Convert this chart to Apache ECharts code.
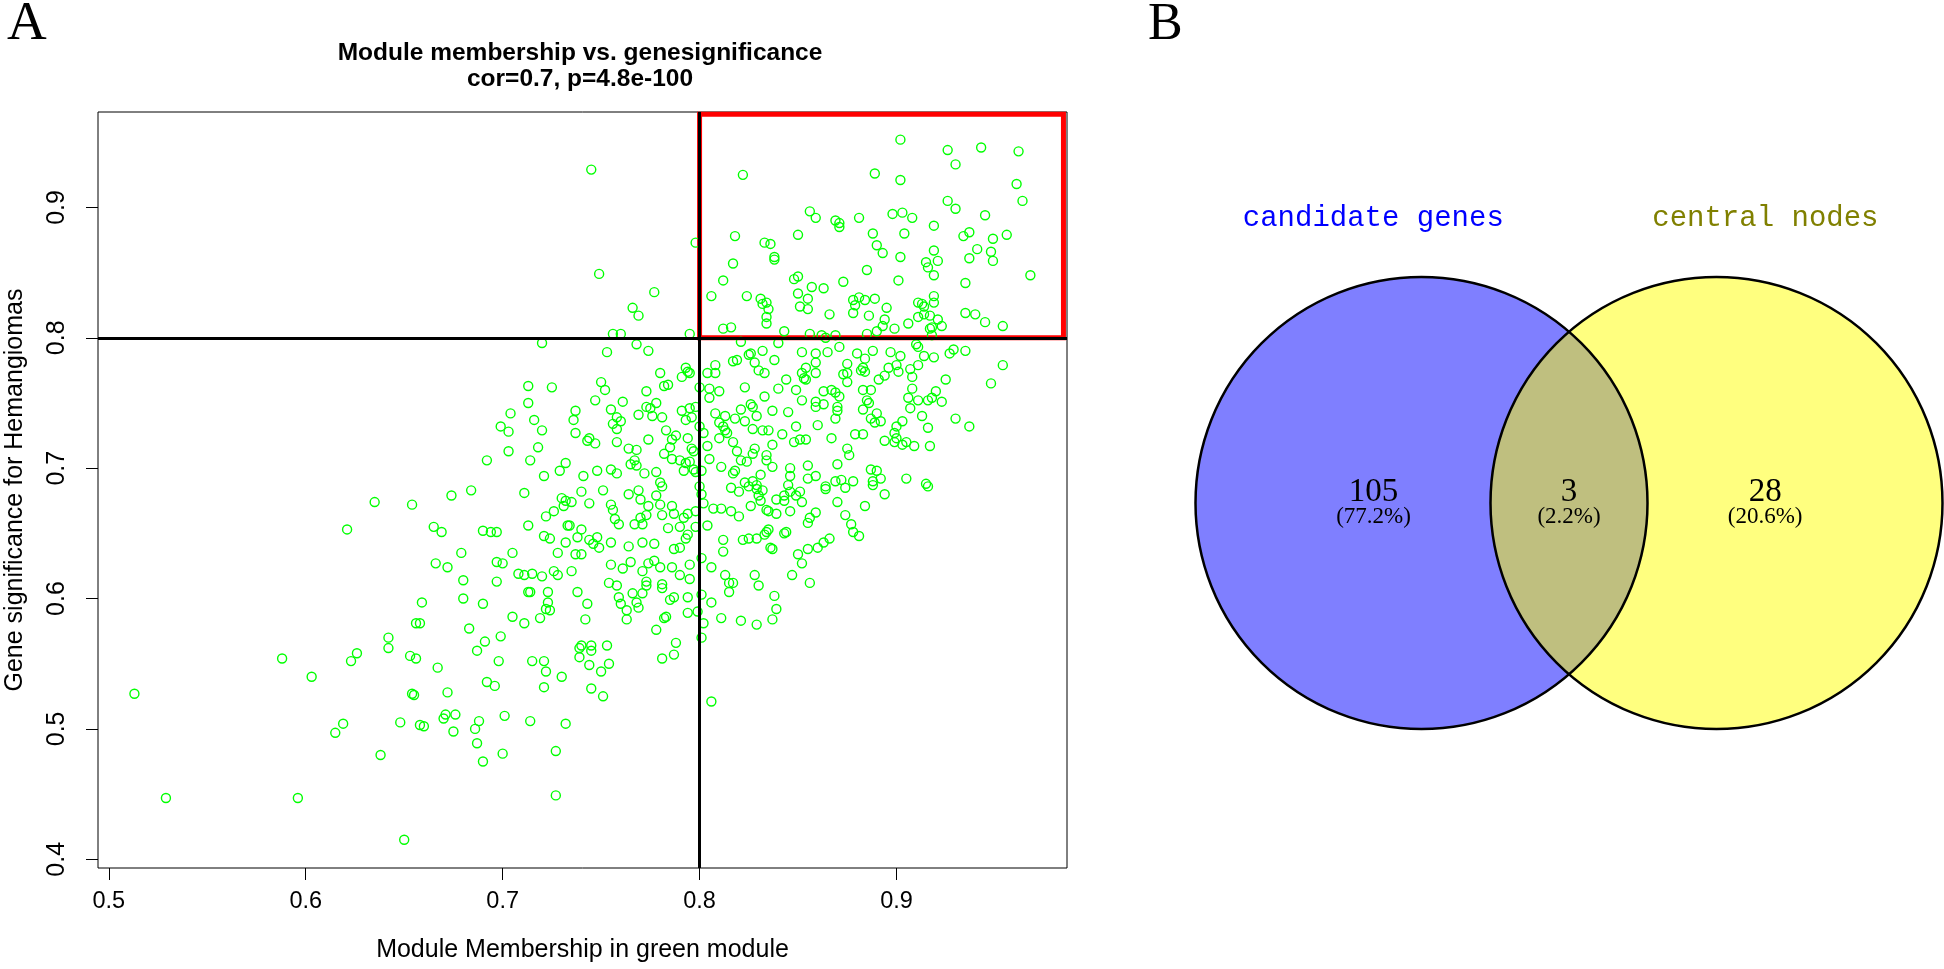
<!DOCTYPE html>
<html>
<head>
<meta charset="utf-8">
<script src="https://cdn.jsdelivr.net/npm/echarts@6/dist/echarts.min.js"></script>
<style>
html,body{margin:0;padding:0;background:#fff;}
#chart{width:1944px;height:969px;}
</style>
</head>
<body>
<div id="chart"></div>
<script>
// ---------------- DATA ----------------
const membershipTicks = [0.5, 0.6, 0.7, 0.8, 0.9];
const significanceTicks = [0.4, 0.5, 0.6, 0.7, 0.8, 0.9];
const cutoffMembership = 0.8;
const cutoffSignificance = 0.8;
const hubBox = [[0.8, 0.8], [0.9848, 0.9715]];

// [module membership, gene significance]
const genesUpperMid = [
[0.745,0.929],[0.822,0.925],[0.798,0.873],[0.818,0.878],[0.749,0.849],[0.817,0.857],[0.812,0.844],[0.806,0.832],[0.824,0.832],[0.777,0.835],
[0.766,0.823],[0.769,0.817],[0.812,0.807],[0.816,0.808],[0.756,0.803],[0.760,0.803],[0.795,0.803],[0.720,0.796],[0.753,0.789],[0.768,0.795],
[0.774,0.790],[0.821,0.797],[0.825,0.787],[0.817,0.782],[0.819,0.783],[0.808,0.779],[0.808,0.773],[0.804,0.773],[0.780,0.773],[0.793,0.777],
[0.794,0.774],[0.791,0.770],[0.795,0.773],[0.784,0.764],[0.782,0.763],[0.800,0.762],[0.805,0.761],[0.810,0.759],[0.805,0.754],[0.823,0.762],
[0.713,0.763],[0.725,0.762],[0.750,0.766],[0.752,0.760],[0.773,0.759],[0.747,0.752],[0.761,0.751],[0.713,0.750],[0.704,0.742],[0.737,0.744],
[0.736,0.737],[0.755,0.745],[0.758,0.739],[0.756,0.734],[0.758,0.730],[0.760,0.736],[0.773,0.747],[0.775,0.746],[0.778,0.750],[0.776,0.740],
[0.781,0.739],[0.769,0.741],[0.791,0.744],[0.795,0.746],[0.796,0.739],[0.798,0.747],[0.793,0.737],[0.800,0.732],[0.699,0.732],[0.703,0.728],
[0.716,0.737],[0.720,0.729],[0.737,0.727],[0.783,0.729],[0.788,0.725],[0.786,0.722],[0.794,0.723],[0.744,0.723],[0.743,0.721],[0.747,0.719],
[0.758,0.720],[0.774,0.722],[0.718,0.716],[0.703,0.713],[0.764,0.715],[0.768,0.714],[0.785,0.716],[0.782,0.711],[0.786,0.707],[0.796,0.715],
[0.797,0.713],[0.692,0.706],[0.714,0.706],[0.732,0.704],[0.729,0.698],[0.721,0.694],[0.741,0.694],[0.748,0.698],[0.755,0.699],[0.758,0.696],
[0.765,0.703],[0.767,0.706],[0.768,0.702],[0.772,0.696],[0.778,0.697],[0.780,0.689],[0.781,0.686],[0.790,0.706],[0.793,0.704],[0.795,0.705],
[0.792,0.698],[0.797,0.699],[0.798,0.697],[0.801,0.698],[0.800,0.686],[0.684,0.683],
[0.802,0.727],[0.804,0.717],[0.805,0.707],[0.811,0.701],[0.818,0.698],[0.817,0.696],[0.821,0.706],[0.823,0.689],[0.819,0.713],[0.817,0.720],
[0.814,0.727],[0.812,0.732],[0.813,0.729],[0.810,0.723],[0.808,0.742],[0.813,0.740],[0.818,0.738],[0.821,0.745],[0.823,0.736],[0.826,0.749],[0.810,0.735]
];

const genesHubRegion = [
[0.902,0.952],[0.926,0.944],[0.943,0.946],[0.962,0.943],[0.930,0.933],[0.889,0.926],[0.902,0.921],[0.961,0.918],[0.964,0.905],[0.926,0.905],
[0.930,0.899],[0.945,0.894],[0.856,0.897],[0.859,0.892],[0.869,0.890],[0.871,0.888],[0.871,0.885],[0.881,0.892],[0.898,0.895],[0.903,0.896],
[0.908,0.892],[0.919,0.886],[0.888,0.880],[0.904,0.880],[0.850,0.879],[0.833,0.873],[0.836,0.872],[0.890,0.871],[0.893,0.865],[0.902,0.862],
[0.838,0.862],[0.838,0.860],[0.934,0.878],[0.937,0.881],[0.949,0.876],[0.956,0.879],[0.941,0.868],[0.948,0.866],[0.949,0.859],[0.937,0.861],
[0.919,0.867],[0.921,0.859],[0.915,0.858],[0.916,0.854],[0.919,0.848],[0.885,0.852],[0.901,0.844],[0.935,0.842],[0.968,0.848],[0.848,0.845],
[0.850,0.847],[0.857,0.839],[0.863,0.838],[0.873,0.843],[0.831,0.830],[0.832,0.826],[0.834,0.827],[0.835,0.822],[0.834,0.816],[0.834,0.811],
[0.850,0.834],[0.855,0.830],[0.851,0.824],[0.855,0.822],[0.866,0.818],[0.878,0.829],[0.881,0.831],[0.884,0.829],[0.879,0.825],[0.878,0.819],
[0.889,0.830],[0.895,0.823],[0.894,0.814],[0.893,0.809],[0.899,0.807],[0.886,0.817],[0.906,0.811],[0.911,0.827],[0.913,0.826],[0.914,0.824],
[0.911,0.816],[0.914,0.818],[0.917,0.817],[0.919,0.832],[0.919,0.827],[0.921,0.814],[0.923,0.809],[0.918,0.808],[0.935,0.819],[0.940,0.818],
[0.945,0.812],[0.954,0.809],[0.843,0.805],[0.856,0.803],[0.862,0.802],[0.864,0.800],[0.869,0.802],[0.885,0.803],[0.890,0.805],[0.917,0.807],[0.918,0.802]
];

const genesUpperRight = [
[0.840,0.796],[0.826,0.788],[0.832,0.790],[0.838,0.783],[0.828,0.781],[0.830,0.775],[0.833,0.773],[0.852,0.789],[0.859,0.788],[0.865,0.789],
[0.871,0.793],[0.859,0.781],[0.859,0.773],[0.854,0.777],[0.852,0.773],[0.854,0.768],[0.853,0.769],[0.844,0.768],[0.840,0.761],[0.849,0.760],
[0.833,0.755],[0.827,0.747],[0.829,0.740],[0.837,0.744],[0.845,0.743],[0.852,0.752],[0.859,0.751],[0.859,0.747],[0.863,0.749],[0.863,0.759],
[0.867,0.760],[0.869,0.758],[0.871,0.755],[0.870,0.747],[0.870,0.744],[0.869,0.738],[0.849,0.732],[0.860,0.733],[0.827,0.730],[0.832,0.729],
[0.835,0.729],[0.842,0.726],[0.848,0.720],[0.851,0.722],[0.854,0.722],[0.867,0.723],[0.837,0.718],[0.828,0.715],[0.834,0.710],[0.834,0.706],
[0.837,0.701],[0.827,0.711],[0.824,0.705],[0.846,0.700],[0.846,0.694],[0.855,0.702],[0.855,0.692],[0.859,0.694],[0.831,0.695],[0.827,0.690],
[0.829,0.687],[0.875,0.773],[0.873,0.772],[0.882,0.775],[0.884,0.774],[0.883,0.777],[0.880,0.788],[0.884,0.784],[0.888,0.790],[0.875,0.780],
[0.875,0.766],[0.883,0.760],[0.887,0.760],[0.885,0.752],[0.886,0.750],[0.883,0.745],[0.887,0.738],[0.890,0.742],[0.892,0.736],[0.889,0.735],
[0.891,0.768],[0.894,0.771],[0.896,0.777],[0.897,0.789],[0.900,0.779],[0.902,0.786],[0.901,0.774],[0.907,0.776],[0.908,0.770],[0.911,0.779],
[0.908,0.761],[0.906,0.754],[0.907,0.746],[0.911,0.752],[0.913,0.740],[0.910,0.795],[0.911,0.793],[0.914,0.786],[0.919,0.785],[0.916,0.752],
[0.918,0.754],[0.920,0.759],[0.923,0.751],[0.925,0.768],[0.927,0.788],[0.929,0.791],[0.935,0.790],[0.954,0.779],[0.948,0.765],[0.930,0.738],
[0.937,0.732],[0.916,0.731],[0.917,0.717],[0.909,0.717],[0.905,0.720],[0.903,0.718],[0.903,0.736],[0.900,0.732],[0.899,0.727],[0.900,0.723],
[0.894,0.721],[0.899,0.720],[0.883,0.726],[0.879,0.726],[0.875,0.715],[0.876,0.710],[0.870,0.703],[0.905,0.692],[0.915,0.688],[0.887,0.699],
[0.890,0.698],[0.892,0.692],[0.888,0.690],[0.878,0.690],[0.872,0.691],[0.869,0.690],[0.864,0.686],[0.845,0.687]
];

const genesLowerMid = [
[0.674,0.679],[0.711,0.681],[0.665,0.655],[0.669,0.651],[0.690,0.652],[0.694,0.651],[0.697,0.651],[0.713,0.656],[0.722,0.663],[0.726,0.667],
[0.730,0.677],[0.732,0.675],[0.735,0.674],[0.731,0.671],[0.740,0.682],[0.744,0.673],[0.751,0.683],[0.755,0.672],[0.756,0.668],[0.757,0.661],
[0.759,0.657],[0.764,0.680],[0.769,0.683],[0.770,0.676],[0.733,0.656],[0.734,0.656],[0.721,0.648],[0.724,0.646],[0.740,0.653],[0.738,0.647],
[0.744,0.645],[0.746,0.642],[0.748,0.647],[0.749,0.639],[0.732,0.643],[0.728,0.635],[0.737,0.634],[0.740,0.634],[0.755,0.643],[0.764,0.640],
[0.771,0.643],[0.777,0.642],[0.767,0.657],[0.771,0.657],[0.773,0.664],[0.770,0.662],[0.774,0.671],[0.778,0.679],[0.780,0.672],[0.781,0.664],
[0.784,0.654],[0.786,0.671],[0.787,0.665],[0.790,0.655],[0.792,0.662],[0.794,0.665],[0.798,0.667],[0.798,0.655],[0.804,0.656],[0.787,0.638],
[0.790,0.639],[0.793,0.646],[0.794,0.649],[0.755,0.626],[0.761,0.623],[0.765,0.628],[0.771,0.621],[0.774,0.627],[0.777,0.629],[0.786,0.624],
[0.790,0.618],[0.795,0.626],[0.795,0.615],[0.801,0.631],[0.806,0.624],[0.813,0.618],[0.815,0.612],[0.817,0.612],[0.815,0.605],[0.806,0.597],
[0.811,0.585],[0.821,0.583],[0.801,0.603],[0.802,0.581],[0.801,0.570],[0.799,0.590],[0.806,0.521],[0.807,0.669],[0.811,0.669],[0.816,0.667],
[0.820,0.663],[0.812,0.645],[0.812,0.636],[0.822,0.645],[0.802,0.673],[0.801,0.680],[0.816,0.685],[0.820,0.682],[0.780,0.624],[0.773,0.613],
[0.781,0.608],[0.785,0.599],[0.787,0.601],[0.781,0.611],[0.778,0.576],[0.782,0.585],[0.783,0.586],[0.788,0.566],[0.787,0.557],[0.781,0.554],
[0.794,0.589],[0.794,0.601],[0.754,0.612],[0.758,0.610],[0.759,0.601],[0.760,0.596],[0.763,0.591],[0.763,0.584],[0.766,0.604],[0.768,0.597],
[0.769,0.593],[0.771,0.604],[0.773,0.610],[0.738,0.605],[0.743,0.596],[0.742,0.584],[0.726,0.621],[0.728,0.618],[0.735,0.621],[0.723,0.605],
[0.723,0.597],[0.722,0.592],[0.724,0.591],[0.719,0.585],[0.715,0.619],[0.720,0.617],[0.713,0.605],[0.714,0.605],[0.708,0.619],[0.711,0.618],
[0.705,0.586],[0.711,0.581],[0.697,0.628],[0.700,0.627],[0.705,0.635],[0.697,0.613],[0.680,0.614],[0.680,0.600],[0.690,0.596],[0.679,0.635],
[0.666,0.627],[0.672,0.624],[0.659,0.597],[0.658,0.581],[0.683,0.577],[0.691,0.567],[0.687,0.560],[0.699,0.571],[0.698,0.552],[0.715,0.552],
[0.721,0.552],[0.722,0.544],[0.730,0.540],[0.721,0.532],[0.692,0.536],[0.696,0.533],[0.672,0.528],[0.667,0.547],[0.740,0.564],[0.739,0.562],
[0.745,0.564],[0.745,0.560],[0.739,0.555],[0.753,0.564],[0.744,0.549],[0.754,0.550],[0.750,0.544],[0.745,0.531],[0.751,0.525],[0.670,0.508],
[0.671,0.511],[0.676,0.511],[0.688,0.506],[0.686,0.500],[0.675,0.498],[0.687,0.489],[0.690,0.475],[0.701,0.510],[0.700,0.481],[0.714,0.506],
[0.732,0.504],[0.727,0.483],[0.727,0.449],[0.660,0.502]
];

const genesLowerLeft = [
[0.635,0.674],[0.654,0.672],[0.621,0.653],[0.656,0.581],[0.642,0.570],[0.642,0.562],[0.626,0.558],[0.623,0.552],[0.653,0.556],[0.656,0.554],
[0.588,0.554],[0.603,0.540],[0.513,0.527],[0.654,0.527],[0.655,0.526],[0.648,0.505],[0.658,0.503],[0.619,0.504],[0.615,0.497],[0.638,0.480],
[0.529,0.447],[0.596,0.447],[0.650,0.415]
];

const genesLowerRight = [
[0.825,0.686],[0.829,0.684],[0.832,0.683],[0.830,0.679],[0.826,0.671],[0.831,0.675],[0.834,0.668],[0.835,0.667],[0.839,0.665],[0.839,0.676],
[0.843,0.675],[0.843,0.679],[0.846,0.682],[0.849,0.679],[0.851,0.682],[0.852,0.674],[0.846,0.667],[0.864,0.684],[0.870,0.674],[0.874,0.664],
[0.874,0.685],[0.884,0.671],[0.894,0.680],[0.888,0.687],[0.916,0.686],[0.855,0.658],[0.856,0.662],[0.859,0.666],[0.834,0.651],[0.835,0.653],
[0.843,0.650],[0.844,0.651],[0.825,0.646],[0.829,0.646],[0.833,0.649],[0.836,0.639],[0.837,0.638],[0.850,0.634],[0.852,0.627],[0.855,0.638],
[0.860,0.639],[0.863,0.643],[0.866,0.646],[0.877,0.657],[0.878,0.651],[0.881,0.648],[0.828,0.618],[0.830,0.610],[0.847,0.618],[0.856,0.612],
[0.838,0.602],[0.839,0.592],[0.837,0.584],[0.829,0.580]
];

const vennSets = ['candidate genes', 'central nodes'];
const vennCounts = [105, 3, 28]; // only candidate, both, only central

// ---------------- CHART ----------------
const allGenes = [].concat(genesUpperMid, genesHubRegion, genesUpperRight, genesLowerMid, genesLowerLeft, genesLowerRight);
const vennTotal = vennCounts.reduce((a, b) => a + b, 0);
const pct = n => '(' + (n / vennTotal * 100).toFixed(1) + '%)';

const sans = '"Liberation Sans", Arial, sans-serif';
const serif = '"Liberation Serif", "Times New Roman", serif';
const mono = '"Liberation Mono", "DejaVu Sans Mono", monospace';

// layout of the Venn panel (in its own unit axes: 1 unit = circle radius)
const vennOffset = 0.6527;
const vennSize = [452, 452];

const chart = echarts.init(document.getElementById('chart'), null, {renderer: 'canvas'});

const txt = (text, x, y, font, align, fill) => ({
  type: 'text', x: x, y: y, silent: true,
  style: {text: text, font: font, fill: fill || '#000', align: align, verticalAlign: 'middle', textAlign: align, textVerticalAlign: 'middle'}
});

const option = {
  animation: false,
  backgroundColor: '#ffffff',
  graphic: [
    txt('A', 7, 25, '55px ' + serif, 'left'),
    txt('B', 1148, 25, '52px ' + serif, 'left'),
    txt('Module membership vs. genesignificance', 580, 53, 'bold 24.5px ' + sans, 'center'),
    txt('cor=0.7, p=4.8e-100', 580, 79, 'bold 24.5px ' + sans, 'center')
  ],
  grid: [
    {left: 98, right: 877, top: 112, bottom: 101, show: true, borderColor: '#000', borderWidth: 1, backgroundColor: 'rgba(0,0,0,0)', containLabel: false},
    {left: 1195, width: 748, top: 277, height: 452, show: false, containLabel: false}
  ],
  xAxis: [
    {
      type: 'value', gridIndex: 0, min: 0.4945, max: 0.9866,
      axisLine: {show: false},
      splitLine: {show: false},
      axisTick: {show: true, length: 12, customValues: membershipTicks, lineStyle: {color: '#000', width: 1}},
      axisLabel: {show: true, customValues: membershipTicks, margin: 22, color: '#000', fontSize: 23.5, fontFamily: sans, formatter: v => v.toFixed(1)},
      name: 'Module Membership in green module', nameLocation: 'middle', nameGap: 70,
      nameTextStyle: {color: '#000', fontSize: 25, fontFamily: sans}
    },
    {type: 'value', gridIndex: 1, min: -1.655, max: 1.655, show: false}
  ],
  yAxis: [
    {
      type: 'value', gridIndex: 0, min: 0.3933, max: 0.9732,
      axisLine: {show: false},
      splitLine: {show: false},
      axisTick: {show: true, length: 12, customValues: significanceTicks, lineStyle: {color: '#000', width: 1}},
      axisLabel: {show: true, customValues: significanceTicks, rotate: 90, margin: 28, color: '#000', fontSize: 25, fontFamily: sans, formatter: v => v.toFixed(1)},
      name: 'Gene significance for Hemangiomas', nameLocation: 'middle', nameGap: 70, nameRotate: 90,
      nameTextStyle: {color: '#000', fontSize: 25, fontFamily: sans}
    },
    {type: 'value', gridIndex: 1, min: -1, max: 1, show: false}
  ],
  series: [
    {
      name: 'genes', type: 'scatter', xAxisIndex: 0, yAxisIndex: 0,
      data: allGenes, symbol: 'circle', symbolSize: 9, silent: true,
      itemStyle: {color: 'rgba(0,0,0,0)', borderColor: '#00FF00', borderWidth: 1.4, opacity: 1},
      markArea: {
        silent: true,
        itemStyle: {color: 'rgba(0,0,0,0)', borderColor: '#FF0000', borderWidth: 5, opacity: 1},
        data: [[{coord: hubBox[0]}, {coord: hubBox[1]}]]
      },
      markLine: {
        silent: true, symbol: ['none', 'none'], label: {show: false},
        lineStyle: {color: '#000', width: 3, type: 'solid', opacity: 1},
        data: [{xAxis: cutoffMembership}, {yAxis: cutoffSignificance}]
      },
      z: 3
    },
    {
      name: 'vennFill', type: 'scatter', xAxisIndex: 1, yAxisIndex: 1, silent: true, clip: false,
      symbol: 'circle', symbolSize: vennSize,
      data: [
        {value: [-vennOffset, 0], itemStyle: {color: 'rgba(0,0,255,0.5)', opacity: 1}},
        {value: [vennOffset, 0], itemStyle: {color: 'rgba(255,255,0,0.5)', opacity: 1}}
      ],
      itemStyle: {borderWidth: 0, opacity: 1},
      z: 2
    },
    {
      name: 'vennBorder', type: 'scatter', xAxisIndex: 1, yAxisIndex: 1, silent: true, clip: false,
      symbol: 'circle', symbolSize: vennSize,
      data: [[-vennOffset, 0], [vennOffset, 0]],
      itemStyle: {color: 'rgba(0,0,0,0)', borderColor: '#000', borderWidth: 2.5, opacity: 1},
      z: 3
    },
    {
      name: 'vennLabels', type: 'scatter', xAxisIndex: 1, yAxisIndex: 1, silent: true, clip: false,
      symbol: 'circle', symbolSize: 1, itemStyle: {color: 'rgba(0,0,0,0)', opacity: 1},
      z: 4,
      label: {
        show: true, position: 'inside', color: '#000', fontFamily: serif,
        rich: {
          num: {fontSize: 33, lineHeight: 28, fontFamily: serif, color: '#000', align: 'center'},
          pc: {fontSize: 23, lineHeight: 22, fontFamily: serif, color: '#000', align: 'center'}
        }
      },
      data: [
        {value: [-0.865, 0], label: {formatter: '{num|' + vennCounts[0] + '}\n{pc|' + pct(vennCounts[0]) + '}'}},
        {value: [0, 0], label: {formatter: '{num|' + vennCounts[1] + '}\n{pc|' + pct(vennCounts[1]) + '}'}},
        {value: [0.868, 0], label: {formatter: '{num|' + vennCounts[2] + '}\n{pc|' + pct(vennCounts[2]) + '}'}},
        {value: [-0.866, 1.261], label: {formatter: vennSets[0], fontSize: 29, color: '#0000FF', fontFamily: mono}},
        {value: [0.869, 1.261], label: {formatter: vennSets[1], fontSize: 29, color: '#808000', fontFamily: mono}}
      ]
    }
  ]
};
chart.setOption(option);
</script>
</body>
</html>
